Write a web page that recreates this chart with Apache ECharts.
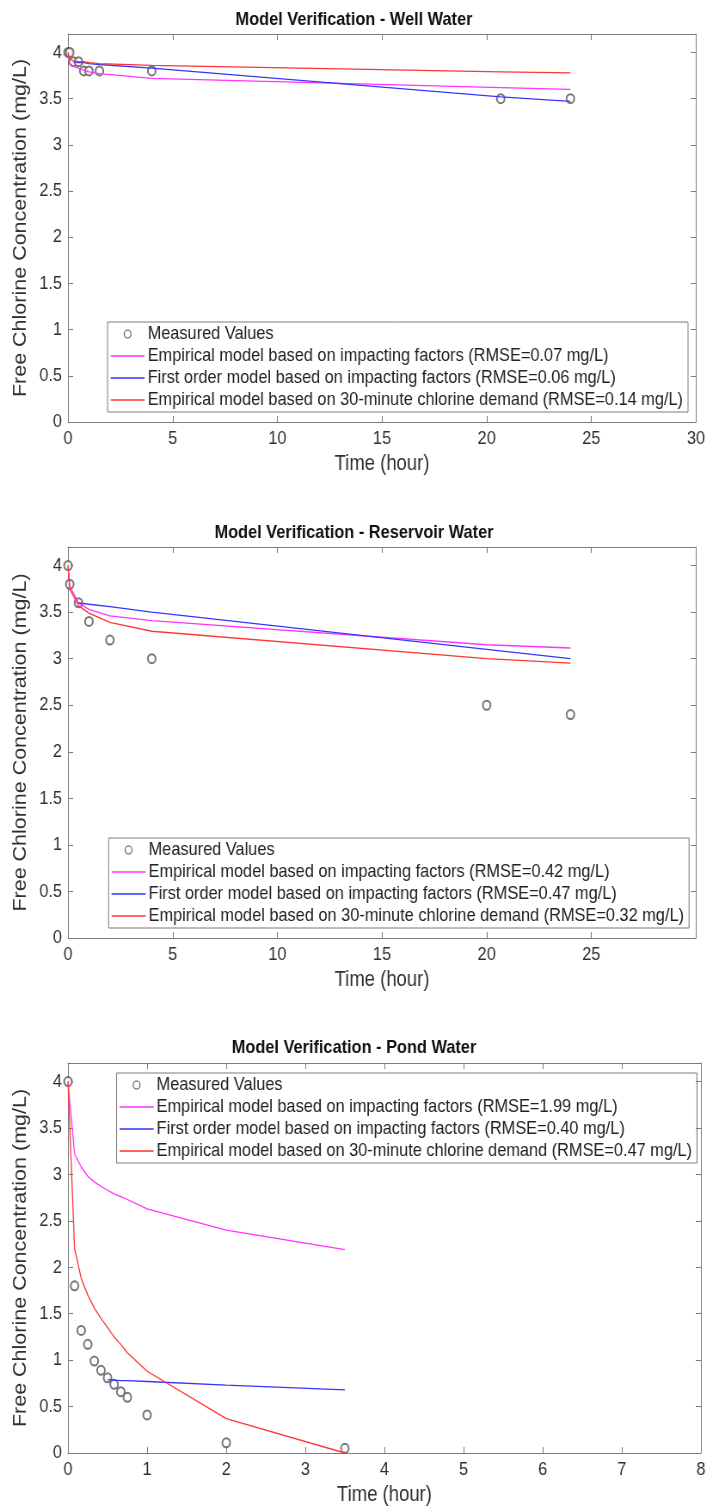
<!DOCTYPE html>
<html>
<head>
<meta charset="utf-8">
<script src="https://cdn.jsdelivr.net/npm/echarts@6/dist/echarts.min.js"></script>
<style>
  html, body { margin: 0; padding: 0; background: #fff; overflow: hidden; }
  /* the figure is laid out wider and condensed horizontally, giving the narrow lettering */
  #main { height: 1508px; transform-origin: 0 0; }
</style>
</head>
<body>
<div id="main"></div>
<script>
// ---- Well water ----
const wellTime       = [0, 0.083, 0.25, 0.5, 0.75, 1, 1.5, 4, 20.67, 24];
const wellMeasured   = [4.0, 4.0, 3.9, 3.9, 3.8, 3.8, 3.8, 3.8, 3.5, 3.5];
const wellEmpirical  = [4.0, 3.88, 3.85, 3.83, 3.81, 3.79, 3.77, 3.72, 3.62, 3.60];
const wellFirstOrder = [null, null, 3.90, 3.89, 3.89, 3.88, 3.87, 3.83, 3.52, 3.47];
const wellDemand     = [4.0, 3.93, 3.91, 3.90, 3.90, 3.89, 3.88, 3.86, 3.79, 3.78];
const wellLegend = [
  'Measured Values',
  'Empirical model based on impacting factors (RMSE=0.07 mg/L)',
  'First order model based on impacting factors (RMSE=0.06 mg/L)',
  'Empirical model based on 30-minute chlorine demand (RMSE=0.14 mg/L)'
];

// ---- Reservoir water ----
const resTime       = [0, 0.083, 0.5, 1, 2, 4, 20, 24];
const resMeasured   = [4.0, 3.8, 3.6, 3.4, 3.2, 3.0, 2.5, 2.4];
const resEmpirical  = [4.0, 3.78, 3.60, 3.53, 3.46, 3.41, 3.15, 3.115];
const resFirstOrder = [null, null, 3.60, 3.585, 3.56, 3.50, 3.10, 3.0];
const resDemand     = [4.0, 3.75, 3.57, 3.49, 3.39, 3.295, 3.0, 2.953];
const resLegend = [
  'Measured Values',
  'Empirical model based on impacting factors (RMSE=0.42 mg/L)',
  'First order model based on impacting factors (RMSE=0.47 mg/L)',
  'Empirical model based on 30-minute chlorine demand (RMSE=0.32 mg/L)'
];

// ---- Pond water ----
const pondTime       = [0, 0.083, 0.167, 0.25, 0.333, 0.417, 0.5, 0.583, 0.667, 0.75, 1, 2, 3.5];
const pondMeasured   = [4.0, 1.8, 1.32, 1.17, 0.99, 0.89, 0.81, 0.74, 0.66, 0.60, 0.41, 0.11, 0.05];
const pondEmpirical  = [4.0, 3.22, 3.08, 2.98, 2.92, 2.87, 2.83, 2.79, 2.76, 2.73, 2.63, 2.40, 2.19];
const pondFirstOrder = [null, null, null, null, null, null, 0.79, 0.785, 0.78, 0.78, 0.77, 0.73, 0.68];
const pondDemand     = [4.0, 2.2, 1.88, 1.70, 1.56, 1.45, 1.35, 1.25, 1.17, 1.08, 0.88, 0.37, 0.0];
const pondLegend = [
  'Measured Values',
  'Empirical model based on impacting factors (RMSE=1.99 mg/L)',
  'First order model based on impacting factors (RMSE=0.40 mg/L)',
  'Empirical model based on 30-minute chlorine demand (RMSE=0.47 mg/L)'
];

const titles = [
  'Model Verification - Well Water',
  'Model Verification - Reservoir Water',
  'Model Verification - Pond Water'
];
const xAxisName = 'Time (hour)';
const yAxisName = 'Free Chlorine Concentration (mg/L)';

// ---- styling ----
const S = 0.86;                       // horizontal condensing factor
const PAGE_W = 708;
const W = PAGE_W / S;                 // layout width before condensing
const sx = v => v / S;                // page x-distance -> layout x-distance

const FONT = "'Liberation Sans', Arial, sans-serif";
const TEXT = '#303030';
const AXIS = '#7a7a7a';
const MODEL_COLORS = ['#ff33ff', '#3535ff', '#ff3535'];
const TICK_SIZE = 19, NAME_SIZE = 21.5, TITLE_SIZE = 19, LEGEND_SIZE = 19;

const mainEl = document.getElementById('main');
mainEl.style.width = W + 'px';
mainEl.style.transform = 'scaleX(' + S + ')';

const panels = [
  { title: titles[0], time: wellTime, measured: wellMeasured,
    models: [wellEmpirical, wellFirstOrder, wellDemand], legend: wellLegend,
    xMax: 30, xInterval: 5, showXMax: true,
    grid: { left: 68, top: 34, width: 628, height: 388 }, titleTop: 10,
    legendPos: 'bottom', legendInset: 8 },
  { title: titles[1], time: resTime, measured: resMeasured,
    models: [resEmpirical, resFirstOrder, resDemand], legend: resLegend,
    xMax: 30, xInterval: 5, showXMax: false,
    grid: { left: 68, top: 547, width: 628, height: 391 }, titleTop: 523,
    legendPos: 'bottom', legendInset: 7 },
  { title: titles[2], time: pondTime, measured: pondMeasured,
    models: [pondEmpirical, pondFirstOrder, pondDemand], legend: pondLegend,
    xMax: 8, xInterval: 1, showXMax: true,
    grid: { left: 68, top: 1063, width: 634, height: 390 }, titleTop: 1038,
    legendPos: 'top', legendInset: 5 }
];

const pairs = (t, v) => t.map((x, i) => [x, v[i]]).filter(p => p[1] !== null);

const option = { animation: false, backgroundColor: '#fff',
  title: [], grid: [], xAxis: [], yAxis: [], series: [], graphic: [] };

const baseTick = { show: true, inside: true, length: 6, lineStyle: { color: AXIS, width: 1 } };
const baseLine = { show: true, onZero: false, lineStyle: { color: AXIS, width: 1 } };

// text width helper for the legend boxes
const measureCtx = document.createElement('canvas').getContext('2d');
measureCtx.font = LEGEND_SIZE + 'px ' + FONT;

panels.forEach((p, i) => {
  const g = { left: sx(p.grid.left), top: p.grid.top, width: sx(p.grid.width), height: p.grid.height };
  option.title.push({ text: p.title, left: 'center', top: p.titleTop, padding: 0,
    textStyle: { fontFamily: FONT, fontSize: TITLE_SIZE, fontWeight: 'bold', color: '#111' } });
  option.grid.push(Object.assign({ containLabel: false }, g));

  // bottom x axis with labels, top x axis for the box and ticks
  option.xAxis.push({ type: 'value', gridIndex: i, position: 'bottom', min: 0, max: p.xMax,
    interval: p.xInterval, axisLine: baseLine, axisTick: baseTick, splitLine: { show: false },
    axisLabel: { color: TEXT, fontFamily: FONT, fontSize: TICK_SIZE, margin: 7, showMaxLabel: p.showXMax },
    name: xAxisName, nameLocation: 'middle', nameGap: 31,
    nameTextStyle: { color: TEXT, fontFamily: FONT, fontSize: NAME_SIZE } });
  option.xAxis.push({ type: 'value', gridIndex: i, position: 'top', min: 0, max: p.xMax,
    interval: p.xInterval, axisLine: baseLine, axisTick: baseTick, splitLine: { show: false },
    axisLabel: { show: false } });

  // left y axis with labels, right y axis for the box and ticks
  option.yAxis.push({ type: 'value', gridIndex: i, position: 'left', min: 0, max: 4.2, interval: 0.5,
    axisLine: baseLine, axisTick: baseTick, splitLine: { show: false },
    axisLabel: { color: TEXT, fontFamily: FONT, fontSize: TICK_SIZE, margin: 7, showMaxLabel: false },
    name: yAxisName, nameLocation: 'middle', nameGap: 36,
    nameTextStyle: { color: TEXT, fontFamily: FONT, fontSize: NAME_SIZE } });
  option.yAxis.push({ type: 'value', gridIndex: i, position: 'right', min: 0, max: 4.2, interval: 0.5,
    axisLine: baseLine, axisTick: baseTick, splitLine: { show: false },
    axisLabel: { show: false } });

  option.series.push({ type: 'scatter', name: p.legend[0], xAxisIndex: 2 * i, yAxisIndex: 2 * i,
    data: pairs(p.time, p.measured), symbol: 'emptyCircle', symbolSize: 9,
    itemStyle: { color: '#555', borderColor: '#555', borderWidth: 1.1 }, z: 2 });
  p.models.forEach((m, k) => {
    option.series.push({ type: 'line', name: p.legend[k + 1], xAxisIndex: 2 * i, yAxisIndex: 2 * i,
      data: pairs(p.time, m), showSymbol: false, symbol: 'none',
      lineStyle: { color: MODEL_COLORS[k], width: 1.3 }, z: 3 });
  });

  // legend box
  const padL = sx(3), iconW = sx(34), gapT = sx(3), padR = sx(5), rowH = 22, firstRow = 12;
  const textW = Math.max(...p.legend.map(s => measureCtx.measureText(s).width));
  const boxW = padL + iconW + gapT + textW + padR;
  const boxH = firstRow * 2 + rowH * (p.legend.length - 1);
  const right = g.left + g.width - sx(p.legendInset);
  const bx = right - boxW;
  const by = p.legendPos === 'bottom' ? p.grid.top + p.grid.height - 10 - boxH : p.grid.top + 10;
  const children = [{ type: 'rect', shape: { x: 0, y: 0, width: boxW, height: boxH },
    style: { fill: '#fff', stroke: AXIS, lineWidth: 1 } }];
  p.legend.forEach((label, r) => {
    const cy = firstRow + r * rowH;
    if (r === 0) {
      children.push({ type: 'circle', shape: { cx: padL + iconW / 2, cy: cy, r: 4 },
        style: { fill: 'none', stroke: '#555', lineWidth: 1.1 } });
    } else {
      children.push({ type: 'line', shape: { x1: padL, y1: cy, x2: padL + iconW, y2: cy },
        style: { stroke: MODEL_COLORS[r - 1], lineWidth: 1.3 } });
    }
    children.push({ type: 'text', x: padL + iconW + gapT, y: cy,
      style: { text: label, fill: '#222', font: LEGEND_SIZE + 'px ' + FONT, verticalAlign: 'middle', align: 'left' } });
  });
  option.graphic.push({ type: 'group', x: bx, y: by, z: 10, children: children });
});

const chart = echarts.init(mainEl, null, { renderer: 'canvas', width: W, height: 1508 });
chart.setOption(option);
</script>
</body>
</html>
